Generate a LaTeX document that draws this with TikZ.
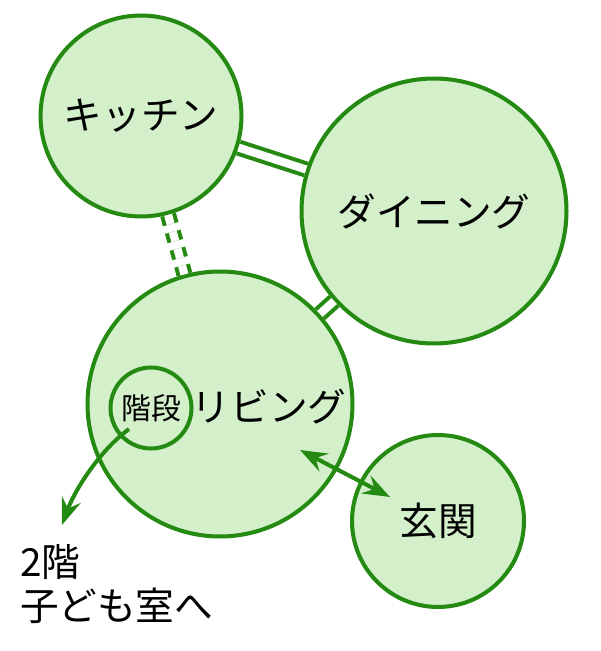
\documentclass[tikz,border=0pt]{standalone}
\usepackage{fontspec}
\setmainfont{Noto Sans CJK JP}
\usetikzlibrary{arrows.meta}
\definecolor{heyasen}{RGB}{36,138,18}
\definecolor{heyanuri}{RGB}{212,240,203}

\begin{document}
\begin{tikzpicture}[x=0.02cm,y=-0.02cm,line width=2.3pt,>={Stealth[length=5.4mm,width=4mm,inset=1.9mm]},
  heya/.style={circle,draw=heyasen,fill=heyanuri,inner sep=0pt,font=\fontsize{22}{26}\selectfont},
  tsunagi/.style={draw=heyasen,double=white,double distance=4.6pt,line width=2.3pt},
  yajirushi/.style={heyasen,line width=2.3pt}]
  \useasboundingbox (0,0) rectangle (600,651);
  % 部屋
  \node[heya,minimum size=4.02cm] (kitchen) at (141,116) {\raisebox{-0.3ex}{キッチン}};
  \node[heya,minimum size=5.3cm] (dining) at (434,211) {ダイニング};
  \node[heya,minimum size=5.3cm] (living) at (220,404) {};
  \node[heya,minimum size=3.44cm] (genkan) at (438,521) {\raisebox{-0.2ex}{玄関}};
  \node[heya,minimum size=1.62cm,font=\fontsize{17}{20}\selectfont] (kaidan) at (151,408) {階段};
  \node[font=\fontsize{22}{26}\selectfont] (livmoji) at (269,407) {リビング};
  % つながり
  \draw[tsunagi] (kitchen) -- (dining);
  \draw[tsunagi] (living) -- (dining);
  \draw[tsunagi,dash pattern=on 5.5pt off 4.5pt] (kitchen) -- (living);
  % 動線
  \coordinate (kdeguchi) at (129,429);
  \coordinate (nikai) at (62,525);
  \draw[yajirushi,->] (kdeguchi) .. controls (98,452) and (74,492) .. (nikai);
  \coordinate (livpt) at (300,450);
  \coordinate (genpt) at (390,497);
  \draw[yajirushi,<->] (livpt) -- (genpt);
  \node[anchor=west,align=left,inner sep=0pt,font=\fontsize{22}{26}\selectfont] (nikaimoji) at (18,584) {2階\\[-1pt]子ども室へ};
\end{tikzpicture}
\end{document}
